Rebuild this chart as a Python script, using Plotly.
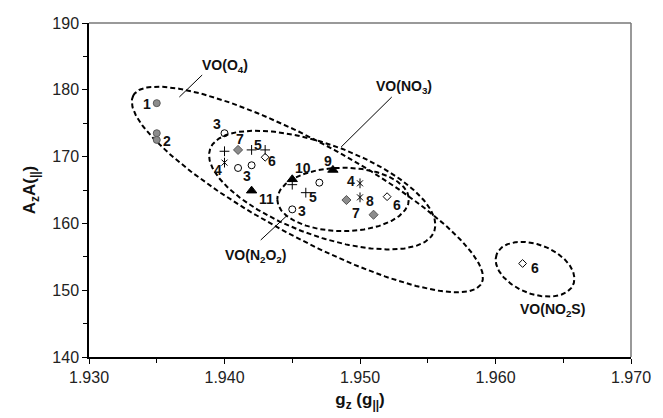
import numpy as np
import plotly.graph_objects as go

# ---------------- data ----------------
gray_circle_x = [1.935, 1.935, 1.935]
gray_circle_y = [178.0, 173.5, 172.5]

open_circle_x = [1.940, 1.941, 1.942, 1.947, 1.945]
open_circle_y = [173.5, 168.3, 168.7, 166.1, 162.1]

plus_x = [1.940, 1.942, 1.943, 1.945, 1.946]
plus_y = [170.8, 171.0, 171.0, 165.8, 164.6]

gray_diamond_x = [1.941, 1.949, 1.951]
gray_diamond_y = [171.0, 163.5, 161.3]

open_diamond_x = [1.943, 1.952, 1.962]
open_diamond_y = [169.9, 164.0, 154.0]

star_x = [1.940, 1.950, 1.950]
star_y = [169.1, 166.0, 163.9]

triangle_x = [1.942, 1.945, 1.948]
triangle_y = [164.9, 166.6, 168.0]

# point labels: text, point x, point y
label_text = ["1", "2", "3", "7", "5", "6", "4", "3", "11", "10", "9", "5", "3", "4", "8", "7", "6", "6"]
label_px = [1.935, 1.935, 1.940, 1.941, 1.942, 1.943, 1.940, 1.942, 1.942, 1.945, 1.948, 1.946, 1.945, 1.950, 1.950, 1.951, 1.952, 1.962]
label_py = [178.0, 172.5, 173.5, 171.0, 171.0, 169.9, 169.1, 168.7, 164.9, 166.6, 168.0, 164.6, 162.1, 166.0, 163.9, 161.3, 164.0, 154.0]

group_names = ["VO(O<sub>4</sub>)", "VO(NO<sub>3</sub>)", "VO(N<sub>2</sub>O<sub>2</sub>)", "VO(NO<sub>2</sub>S)"]

x_min, x_max = 1.930, 1.970
y_min, y_max = 140, 190

# ---------------- layout geometry ----------------
W, H = 663, 418
ML, MR, MT, MB = 89, 28, 23, 61
PW = W - ML - MR
PH = H - MT - MB
sx = PW / (x_max - x_min)
sy = PH / (y_max - y_min)

def px2data(px, py):
    return x_min + (np.asarray(px) - ML) / sx, y_max - (np.asarray(py) - MT) / sy

# group outline tracings (screen px) -> fitted ellipses
outline_o4 = [(150, 89), (160, 88), (183, 92), (223, 103), (273, 120), (307, 133), (340, 147),
              (413, 200), (433, 217), (460, 240), (489, 286), (470, 295), (400, 281),
              (128, 102), (130, 113), (147, 130), (157, 143), (180, 160), (200, 177), (233, 201), (320, 246)]
outline_no3 = [(208, 163), (212, 150), (223, 138), (240, 133), (273, 130), (290, 133), (330, 147),
               (363, 157), (397, 173), (417, 190), (430, 207), (435, 220), (430, 240),
               (420, 246), (380, 249), (320, 238), (260, 207), (225, 185)]
outline_n2o2 = [(280, 198), (290, 182), (300, 175), (333, 169), (357, 168), (397, 180), (412, 200),
                (397, 218), (367, 230), (333, 230), (293, 220)]
outline_no2s = [(499, 255), (510, 245), (527, 242), (553, 248), (570, 263), (578, 280),
                (573, 292), (553, 295), (527, 292), (507, 277), (499, 263)]

def fit_ellipse(pts, n=240):
    P = np.array(pts, float)
    m = P.mean(0)
    x, y = (P - m).T
    M = np.column_stack([x * x, x * y, y * y, x, y])
    A, B, C, D, E = np.linalg.lstsq(M, np.ones(len(x)), rcond=None)[0]
    Q = np.array([[A, B / 2], [B / 2, C]])
    L = np.array([D, E])
    c = np.linalg.solve(2 * Q, -L)
    k = 1 - (c @ Q @ c + L @ c)
    w, V = np.linalg.eigh(Q / k)
    ax = 1 / np.sqrt(w)
    t = np.linspace(0, 2 * np.pi, n)
    q = V @ (ax[:, None] * np.vstack([np.cos(t), np.sin(t)]))
    return q[0] + c[0] + m[0], q[1] + c[1] + m[1]

fig = go.Figure()
for outline in [outline_o4, outline_no3, outline_n2o2, outline_no2s]:
    ex, ey = fit_ellipse(outline)
    dx, dy = px2data(ex, ey)
    fig.add_trace(go.Scatter(x=dx, y=dy, mode="lines",
                             line=dict(color="black", width=2, dash="5px,3px"),
                             hoverinfo="skip", showlegend=False))

def add_markers(x, y, symbol, size, color, line_color, lw=1):
    fig.add_trace(go.Scatter(x=x, y=y, mode="markers", showlegend=False,
                             marker=dict(symbol=symbol, size=size, color=color,
                                         line=dict(color=line_color, width=lw))))

add_markers(gray_circle_x, gray_circle_y, "circle", 7, "#8c8c8c", "#5a5a5a")
add_markers(open_circle_x, open_circle_y, "circle-open", 7, "black", "black")
add_markers(plus_x, plus_y, "cross-thin-open", 7, "black", "black")
add_markers(gray_diamond_x, gray_diamond_y, "diamond", 7, "#8c8c8c", "#555555")
add_markers(open_diamond_x, open_diamond_y, "diamond-open", 6, "black", "black")
add_markers(star_x, star_y, "x-thin-open", 6, "black", "black")
add_markers(star_x, star_y, "line-ns-open", 7, "black", "black")
add_markers(triangle_x, triangle_y, "triangle-up", 9, "black", "black")

label_dx = [-10, 10, -8, 2, 6, 7, -7, -5, 15, 11, -5, 7, 10, -9, 10, -18, 10, 12]
label_dy = [1, 1, -9, -11, -5, 4, 7, 11, 8, -11, -9, 4, 2, -2, 4, -2, 8, 5]
font_lab = dict(family="Liberation Sans, Arial", size=14, color="#111")
annotations = []
for s, x, y, dx, dy in zip(label_text, label_px, label_py, label_dx, label_dy):
    annotations.append(dict(x=x, y=y, xref="x", yref="y", text="<b>%s</b>" % s,
                            showarrow=False, xshift=dx, yshift=-dy, font=font_lab))

grp_pos = [(226, 66), (406, 87), (257, 256), (556, 310)]
for name, (gx, gy) in zip(group_names, grp_pos):
    x, y = px2data(gx, gy)
    annotations.append(dict(x=float(x), y=float(y), xref="x", yref="y", text="<b>%s</b>" % name,
                            showarrow=False, font=font_lab))

leaders = [((203, 75), (180, 97)), ((394, 97), (343, 147)), ((262, 240), (288, 216))]
for (x0, y0), (x1, y1) in leaders:
    a, b = px2data([x0, x1], [y0, y1])
    fig.add_trace(go.Scatter(x=a, y=b, mode="lines",
                             line=dict(color="black", width=1), hoverinfo="skip",
                             showlegend=False))

shapes = [
    dict(type="line", xref="paper", yref="paper", x0=0, x1=1, y0=1, y1=1,
         line=dict(color="#777777", width=1.5)),
    dict(type="line", xref="paper", yref="paper", x0=1, x1=1, y0=0, y1=1,
         line=dict(color="#777777", width=1.5)),
]

tick_font = dict(family="Liberation Sans, Arial", size=16, color="#222")
fig.update_layout(
    width=W, height=H,
    margin=dict(l=ML, r=MR, t=MT, b=MB),
    paper_bgcolor="white", plot_bgcolor="white",
    showlegend=False,
    annotations=annotations,
    shapes=shapes,
    xaxis=dict(range=[x_min, x_max], dtick=0.01, tick0=1.93, tickformat=".3f",
               showgrid=False, zeroline=False, showline=True, linecolor="black",
               linewidth=2, ticks="outside", ticklen=5, tickcolor="black",
               minor=dict(dtick=0.005, ticks="outside", ticklen=4, tickcolor="black", showgrid=False),
               tickfont=tick_font,
               title=dict(text="<b>g<sub>z</sub> (g<sub>||</sub>)</b>", standoff=8,
                          font=dict(family="Liberation Sans, Arial", size=17, color="#111"))),
    yaxis=dict(range=[y_min, y_max], dtick=10, showgrid=False, zeroline=False,
               showline=True, linecolor="black", linewidth=1.5, ticks="outside",
               ticklen=5, tickcolor="black",
               minor=dict(dtick=5, ticks="outside", ticklen=4, tickcolor="black", showgrid=False),
               tickfont=tick_font,
               title=dict(text="<b>A<sub>z</sub>A(<sub>||</sub>)</b>", standoff=12,
                          font=dict(family="Liberation Sans, Arial", size=17, color="#111"))),
)

fig.write_html("out.html")
